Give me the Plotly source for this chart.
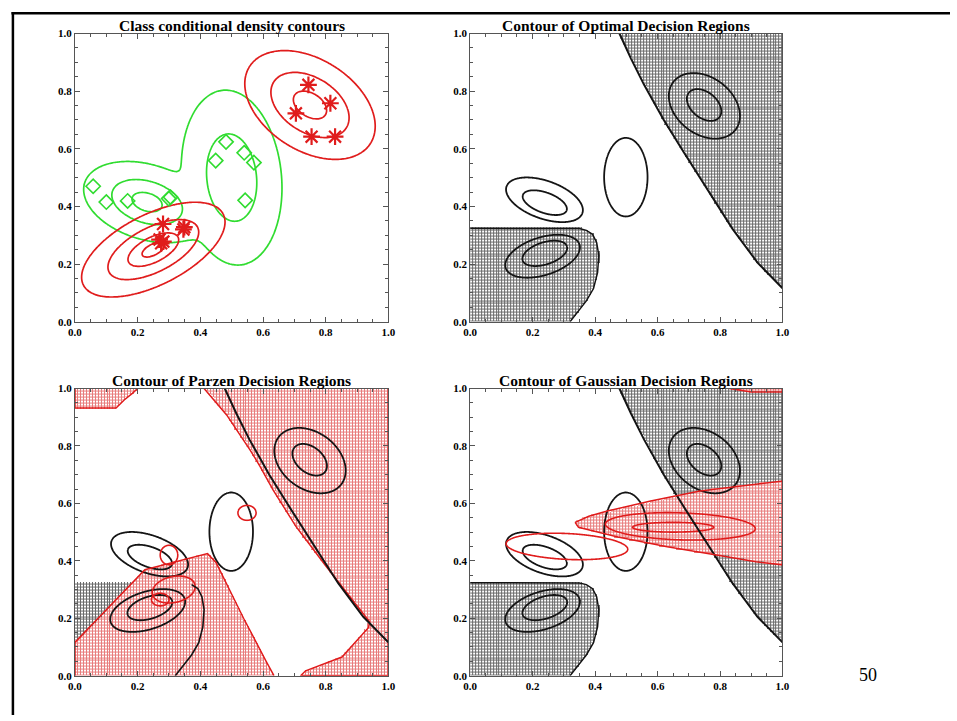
import numpy as np
import plotly.graph_objects as go

W, H = 957, 721

# ---------------- data ----------------
# Panel 1: training samples
RED_PTS_X = [0.745, 0.815, 0.705, 0.755, 0.830, 0.281, 0.349, 0.346, 0.270, 0.275, 0.282]
RED_PTS_Y = [0.822, 0.758, 0.723, 0.642, 0.642, 0.339, 0.328, 0.320, 0.285, 0.272, 0.278]
GREEN_PTS_X = [0.058, 0.100, 0.168, 0.299, 0.305, 0.482, 0.449, 0.540, 0.571, 0.543]
GREEN_PTS_Y = [0.470, 0.415, 0.419, 0.427, 0.432, 0.624, 0.559, 0.586, 0.552, 0.421]

# Panel 1: Gaussian components of the class conditional densities
GREEN_CX = [0.23, 0.50]
GREEN_CY = [0.415, 0.50]
GREEN_SA = [0.0667, 0.1007]
GREEN_SB = [0.041, 0.0526]
GREEN_ANG = [-20, 95]
GREEN_W = [1.0, 0.675]
GREEN_LEVELS = [0.007, 0.216, 0.755]

RED_CX = [0.25, 0.75]
RED_CY = [0.25, 0.752]
RED_SA = [0.085, 0.081]
RED_SB = [0.04, 0.053]
RED_ANG = [30, -38]
RED_W = [1.0, 0.75]
RED_LEVELS = [0.0111, 0.165, 0.57, 0.895]

# Panels 2-4: true density contour rings (centre, semi axes, angle)
TRUE_CX = [0.750, 0.749, 0.238, 0.239, 0.4985, 0.232, 0.239]
TRUE_CY = [0.749, 0.752, 0.423, 0.413, 0.5015, 0.227, 0.237]
TRUE_A = [0.130, 0.065, 0.130, 0.075, 0.1365, 0.125, 0.075]
TRUE_B = [0.095, 0.043, 0.065, 0.035, 0.0695, 0.065, 0.038]
TRUE_ANG = [-45, -45, -22, -22, 90, 20, 20]

# Optimal decision regions (vertices)
OPT_LL_X = [0.0, 0.0, 0.35, 0.372, 0.392, 0.405, 0.412, 0.408, 0.395, 0.372, 0.345, 0.32]
OPT_LL_Y = [0.0, 0.324, 0.323, 0.317, 0.303, 0.275, 0.23, 0.17, 0.115, 0.072, 0.035, 0.0]
OPT_UR_X = [0.478, 0.515, 0.557, 0.62, 0.684, 0.764, 0.84, 0.92, 1.0, 1.0]
OPT_UR_Y = [1.0, 0.913, 0.822, 0.70, 0.588, 0.45, 0.322, 0.205, 0.116, 1.0]

# Parzen decision regions (vertices)
PZ_A_X = [0.0, 0.0, 0.131, 0.157, 0.183, 0.2]
PZ_A_Y = [1.0, 0.932, 0.932, 0.96, 0.983, 1.0]
PZ_B_X = [0.412, 0.484, 0.56, 0.59, 0.632, 0.705, 0.80, 0.874, 0.94, 0.937, 0.852, 0.736, 0.72, 1.0, 1.0]
PZ_B_Y = [1.0, 0.908, 0.784, 0.73, 0.647, 0.52, 0.383, 0.28, 0.188, 0.168, 0.065, 0.017, 0.0, 0.0, 1.0]
PZ_C_X = [0.0, 0.0, 0.223, 0.30, 0.412, 0.423, 0.45, 0.538, 0.61, 0.635]
PZ_C_Y = [0.0, 0.116, 0.369, 0.39, 0.42, 0.425, 0.394, 0.20, 0.05, 0.0]
# Parzen density contour loops
PZ_RING_CX = [0.549, 0.300, 0.315, 0.272]
PZ_RING_CY = [0.567, 0.420, 0.300, 0.265]
PZ_RING_A = [0.029, 0.034, 0.070, 0.028]
PZ_RING_B = [0.026, 0.028, 0.045, 0.022]
PZ_RING_ANG = [0, 90, 15, 0]

# Gaussian decision regions (vertices)
GS_W_X = [0.336, 0.38, 0.442, 0.578, 0.736, 0.862, 1.0, 1.0, 0.915, 0.789, 0.631, 0.473, 0.347]
GS_W_Y = [0.534, 0.555, 0.574, 0.608, 0.643, 0.66, 0.678, 0.386, 0.397, 0.42, 0.449, 0.483, 0.517]
GS_S_X = [0.83, 0.87, 0.90, 1.0, 1.0]
GS_S_Y = [1.0, 0.993, 0.988, 0.988, 1.0]
# Gaussian density contour rings
GS_RING_CX = [0.650, 0.673, 0.310]
GS_RING_CY = [0.517, 0.520, 0.450]
GS_RING_A = [0.130, 0.240, 0.195]
GS_RING_B = [0.017, 0.047, 0.045]
GS_RING_ANG = [0, -2, -3]

TITLES = ["Class conditional density contours", "Contour of Optimal Decision Regions",
          "Contour of Parzen Decision Regions", "Contour of Gaussian Decision Regions"]
TICK_VALS = [0.0, 0.2, 0.4, 0.6, 0.8, 1.0]
PAGE_NO = "50"

# ---------------- styles ----------------
RED = '#e01c1c'
GREEN = '#30dc30'
BLACK = '#141414'
HATCH_BLACK = '#6a6a6a'
HATCH_RED = '#e87c7c'
AXC = '#555555'
SERIF = 'Liberation Serif'

PX = [(69, 387), (470, 787), (69, 387), (470, 787)]
PY = [(28, 321), (28, 321), (389, 681), (389, 681)]


def mahal(X, Y, cx, cy, sa, sb, ang):
    t = np.deg2rad(ang)
    dx, dy = X - cx, Y - cy
    u = (dx * np.cos(t) + dy * np.sin(t)) / sa
    v = (-dx * np.sin(t) + dy * np.cos(t)) / sb
    return np.sqrt(u * u + v * v)


def inside(px, py, polx, poly):
    res = np.zeros(px.shape, bool)
    n = len(polx)
    j = n - 1
    for i in range(n):
        xi, yi, xj, yj = polx[i], poly[i], polx[j], poly[j]
        if yi != yj:
            cond = ((yi > py) != (yj > py)) & (px < (xj - xi) * (py - yi) / (yj - yi) + xi)
            res ^= cond
        j = i
    return res


fig = go.Figure()

# ---------- panel 1: mixture density contours ----------
G = np.linspace(0, 1, 201)
GX, GY = np.meshgrid(G, G)


def mixture(cx, cy, sa, sb, ang, w):
    f = np.zeros(GX.shape)
    for k in range(len(cx)):
        f += w[k] * np.exp(-0.5 * mahal(GX, GY, cx[k], cy[k], sa[k], sb[k], ang[k]) ** 2)
    return np.log(np.maximum(f, 1e-9))


for zz, levels, col in [(mixture(GREEN_CX, GREEN_CY, GREEN_SA, GREEN_SB, GREEN_ANG, GREEN_W), GREEN_LEVELS, GREEN),
                        (mixture(RED_CX, RED_CY, RED_SA, RED_SB, RED_ANG, RED_W), RED_LEVELS, RED)]:
    for L in levels:
        lv = float(np.log(L))
        fig.add_trace(go.Contour(x=G, y=G, z=zz, autocontour=False,
                                 contours=dict(start=lv, end=lv, size=1, coloring='none'),
                                 line=dict(color=col, width=1.7), showscale=False,
                                 hoverinfo='skip', xaxis='x', yaxis='y'))

fig.add_trace(go.Scatter(x=GREEN_PTS_X, y=GREEN_PTS_Y, mode='markers',
                         marker=dict(symbol='diamond-open', size=11, color=GREEN,
                                     line=dict(width=1.6, color=GREEN)),
                         hoverinfo='skip', xaxis='x', yaxis='y'))
fig.add_trace(go.Scatter(x=RED_PTS_X, y=RED_PTS_Y, mode='markers',
                         marker=dict(symbol='asterisk-open', size=14, color=RED,
                                     line=dict(width=2.2, color=RED)),
                         hoverinfo='skip', xaxis='x', yaxis='y'))

# ---------- decision regions (hatched) ----------
NX, NY = 106, 98
XC = (np.arange(NX) + 0.5) / NX
YC = (np.arange(NY) + 0.5) / NY
CX, CY = np.meshgrid(XC, YC)


def add_regions(black_polys, red_polys, xa, ya):
    cat = np.zeros(CX.shape)
    for px, py in black_polys:
        cat[inside(CX, CY, px, py)] = 1
    for px, py in red_polys:
        cat[inside(CX, CY, px, py)] = 2
    zb = [[None if v == 0 else float(v) for v in row] for row in cat]
    zt = [[None if v == 0 else 1.0 for v in row] for row in cat]
    fig.add_trace(go.Heatmap(x=XC, y=YC, z=zb, zmin=1, zmax=2,
                             colorscale=[[0, HATCH_BLACK], [0.5, HATCH_BLACK], [0.5, HATCH_RED], [1, HATCH_RED]],
                             showscale=False, hoverinfo='skip', xaxis=xa, yaxis=ya))
    fig.add_trace(go.Heatmap(x=XC, y=YC, z=zt, zmin=0, zmax=1,
                             colorscale=[[0, 'white'], [1, 'white']], xgap=1, ygap=1,
                             showscale=False, hoverinfo='skip', xaxis=xa, yaxis=ya))


def add_ring(cx, cy, a, b, ang, col, width, xa, ya):
    ext = max(a, b) * 1.25 + 0.01
    gx = np.linspace(cx - ext, cx + ext, 161)
    gy = np.linspace(cy - ext, cy + ext, 161)
    RX, RY = np.meshgrid(gx, gy)
    z = mahal(RX, RY, cx, cy, a, b, ang)
    fig.add_trace(go.Contour(x=gx, y=gy, z=z, autocontour=False,
                             contours=dict(start=1, end=1, size=1, coloring='none'),
                             line=dict(color=col, width=width), showscale=False,
                             hoverinfo='skip', xaxis=xa, yaxis=ya))


def add_line(xs, ys, col, width, xa, ya):
    fig.add_trace(go.Scatter(x=xs, y=ys, mode='lines', line=dict(color=col, width=width),
                             hoverinfo='skip', xaxis=xa, yaxis=ya))


OPT = [(OPT_LL_X, OPT_LL_Y), (OPT_UR_X, OPT_UR_Y)]

# panel 2
add_regions(OPT, [], 'x2', 'y2')
# panel 3
add_regions([(OPT_LL_X, OPT_LL_Y)], [(PZ_A_X, PZ_A_Y), (PZ_B_X, PZ_B_Y), (PZ_C_X, PZ_C_Y)], 'x3', 'y3')
# panel 4
add_regions(OPT, [(GS_W_X, GS_W_Y), (GS_S_X, GS_S_Y)], 'x4', 'y4')

for xa, ya in [('x2', 'y2'), ('x3', 'y3'), ('x4', 'y4')]:
    for k in range(len(TRUE_CX)):
        add_ring(TRUE_CX[k], TRUE_CY[k], TRUE_A[k], TRUE_B[k], TRUE_ANG[k], BLACK, 1.8, xa, ya)

for k in range(len(PZ_RING_CX)):
    add_ring(PZ_RING_CX[k], PZ_RING_CY[k], PZ_RING_A[k], PZ_RING_B[k], PZ_RING_ANG[k], RED, 1.6, 'x3', 'y3')
for k in range(len(GS_RING_CX)):
    add_ring(GS_RING_CX[k], GS_RING_CY[k], GS_RING_A[k], GS_RING_B[k], GS_RING_ANG[k], RED, 1.6, 'x4', 'y4')

# region outlines
for xa, ya in [('x2', 'y2'), ('x4', 'y4')]:
    add_line(OPT_LL_X[1:], OPT_LL_Y[1:], BLACK, 1.5, xa, ya)
    add_line(OPT_UR_X[:-1], OPT_UR_Y[:-1], BLACK, 2, xa, ya)
for px, py in [(PZ_A_X, PZ_A_Y), (PZ_B_X, PZ_B_Y), (PZ_C_X, PZ_C_Y)]:
    add_line(px, py, RED, 1.5, 'x3', 'y3')
add_line(OPT_LL_X[3:], OPT_LL_Y[3:], BLACK, 1.6, 'x3', 'y3')
add_line(OPT_UR_X[:-1], OPT_UR_Y[:-1], BLACK, 2, 'x3', 'y3')
for px, py in [(GS_W_X, GS_W_Y), (GS_S_X, GS_S_Y)]:
    add_line(px + [px[0]], py + [py[0]], RED, 1.5, 'x4', 'y4')

# ---------- layout ----------
TICKFONT = dict(family=SERIF, size=11, color='black', weight='bold')


def axis(domain, anchor):
    return dict(domain=domain, anchor=anchor, range=[0, 1], tickvals=TICK_VALS, tickformat='.1f',
                ticks='inside', ticklen=5, tickwidth=1, tickcolor=AXC,
                showline=True, linecolor=AXC, linewidth=1, mirror='ticks',
                showgrid=False, zeroline=False, tickfont=TICKFONT, fixedrange=True,
                minor=dict(ticks='inside', dtick=0.05, tick0=0, ticklen=3, tickcolor=AXC, showgrid=False))


lay = dict(width=W, height=H, margin=dict(l=0, r=0, t=0, b=0),
           paper_bgcolor='white', plot_bgcolor='white', showlegend=False)
annots = []
for i in range(4):
    sx = '' if i == 0 else str(i + 1)
    xd = [PX[i][0] / W, PX[i][1] / W]
    yd = [1 - PY[i][1] / H, 1 - PY[i][0] / H]
    lay['xaxis' + sx] = axis(xd, 'y' + sx)
    lay['yaxis' + sx] = axis(yd, 'x' + sx)
    annots.append(dict(text=TITLES[i], xref='paper', yref='paper', x=(xd[0] + xd[1]) / 2,
                       y=1 - (PY[i][0] - 8) / H, xanchor='center', yanchor='middle', showarrow=False,
                       font=dict(family=SERIF, size=15.5, color='black', weight='bold')))
annots.append(dict(text=PAGE_NO, xref='paper', yref='paper', x=874 / W, y=1 - 680 / H,
                   xanchor='center', yanchor='middle', showarrow=False,
                   font=dict(family=SERIF, size=18, color='black')))
lay['annotations'] = annots
lay['shapes'] = [
    dict(type='line', xref='paper', yref='paper', x0=4.5 / W, x1=1, y0=1 - 7.3 / H, y1=1 - 7.3 / H,
         line=dict(color='black', width=2.5)),
    dict(type='line', xref='paper', yref='paper', x0=6 / W, x1=6 / W, y0=0, y1=1 - 6 / H,
         line=dict(color='black', width=2.5)),
]
fig.update_layout(**lay)
fig.write_html("out.html")
